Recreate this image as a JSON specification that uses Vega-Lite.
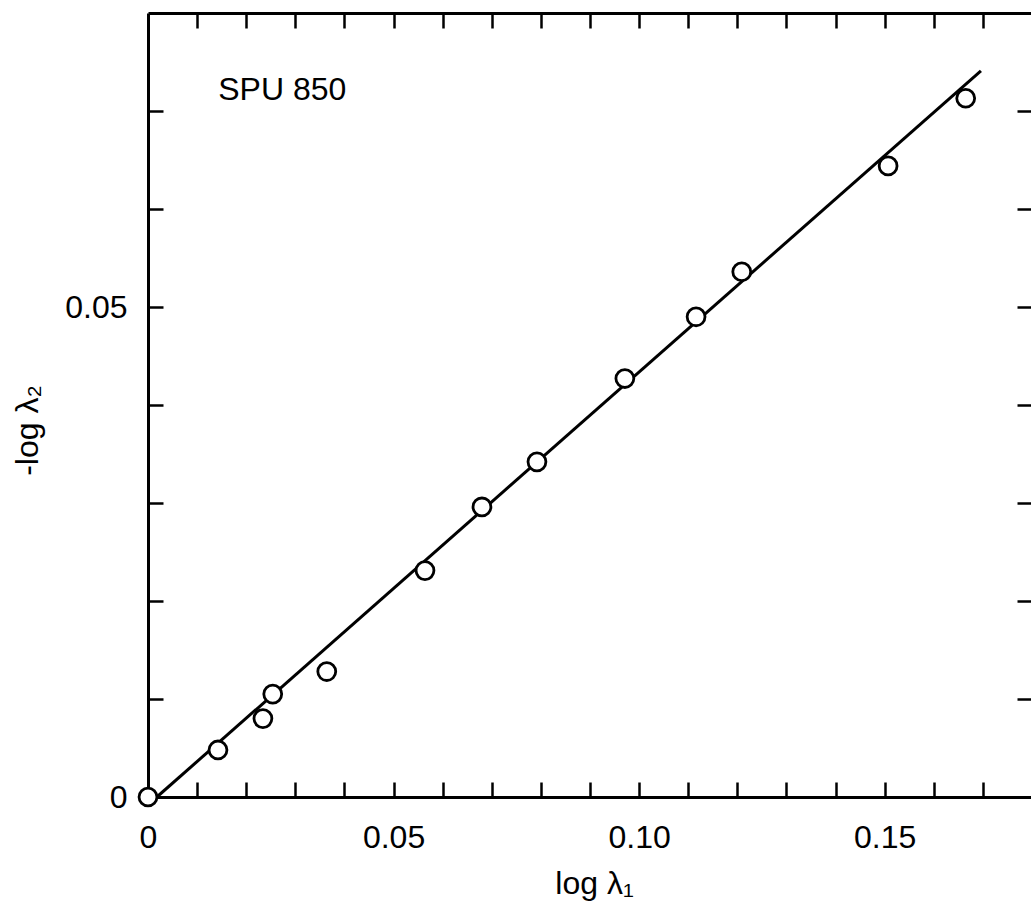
{
  "$schema": "https://vega.github.io/schema/vega-lite/v6.json",
  "width": 884,
  "height": 784,
  "autosize": {"type": "none"},
  "padding": {"left": 148, "top": 13, "right": 0, "bottom": 112},
  "background": "white",
  "config": {
    "view": {"stroke": null},
    "font": "Liberation Sans",
    "axis": {
      "grid": false,
      "domainColor": "black",
      "domainWidth": 3,
      "tickColor": "black",
      "tickWidth": 2.5,
      "tickSize": -15,
      "labelColor": "black",
      "labelFontSize": 32,
      "labelFont": "Liberation Sans",
      "labelFlush": false,
      "labelOverlap": false,
      "titleColor": "black",
      "titleFontSize": 32,
      "titleFont": "Liberation Sans",
      "titleFontWeight": "normal"
    }
  },
  "datasets": {
    "pts": [
      {"x": 0.0, "y": 0.0},
      {"x": 0.01425, "y": 0.0048},
      {"x": 0.0234, "y": 0.0080},
      {"x": 0.0254, "y": 0.0105},
      {"x": 0.0364, "y": 0.0128},
      {"x": 0.0564, "y": 0.0231},
      {"x": 0.0680, "y": 0.0296},
      {"x": 0.0792, "y": 0.0342},
      {"x": 0.0971, "y": 0.0427},
      {"x": 0.1116, "y": 0.0490},
      {"x": 0.1209, "y": 0.0536},
      {"x": 0.1507, "y": 0.0644},
      {"x": 0.1665, "y": 0.0713}
    ],
    "fit": [
      {"x": 0.0018, "y": 0.0},
      {"x": 0.1696, "y": 0.0741}
    ],
    "lbl": [
      {"x": 0.0143, "y": 0.0711, "label": "SPU 850"}
    ]
  },
  "resolve": {"axis": {"x": "independent", "y": "independent"}},
  "layer": [
    {
      "data": {"name": "fit"},
      "mark": {"type": "line", "color": "black", "strokeWidth": 3},
      "encoding": {
        "x": {
          "field": "x", "type": "quantitative",
          "scale": {"domain": [0, 0.18], "nice": false, "zero": false},
          "axis": {
            "orient": "top",
            "values": [0.01, 0.02, 0.03, 0.04, 0.05, 0.06, 0.07, 0.08, 0.09, 0.1, 0.11, 0.12, 0.13, 0.14, 0.15, 0.16, 0.17],
            "labels": false,
            "title": null
          }
        },
        "y": {
          "field": "y", "type": "quantitative",
          "scale": {"domain": [0, 0.08], "nice": false, "zero": false},
          "axis": {
            "orient": "right",
            "values": [0.01, 0.02, 0.03, 0.04, 0.05, 0.06, 0.07],
            "labels": false,
            "title": null
          }
        }
      }
    },
    {
      "data": {"name": "pts"},
      "mark": {"type": "point", "shape": "circle", "filled": true, "fill": "white", "stroke": "black", "strokeWidth": 2.8, "size": 320, "opacity": 1},
      "encoding": {
        "x": {
          "field": "x", "type": "quantitative",
          "axis": {
            "orient": "bottom",
            "values": [0, 0.01, 0.02, 0.03, 0.04, 0.05, 0.06, 0.07, 0.08, 0.09, 0.1, 0.11, 0.12, 0.13, 0.14, 0.15, 0.16, 0.17],
            "labelExpr": "datum.value < 0.001 ? '0' : (round(datum.value * 100) % 5 == 0 ? format(datum.value, '.2f') : '')",
            "labelPadding": 40,
            "title": "log λ₁",
            "titleX": 446,
            "titleY": 86,
            "titleBaseline": "middle",
            "titleAlign": "center"
          }
        },
        "y": {
          "field": "y", "type": "quantitative",
          "axis": {
            "orient": "left",
            "values": [0, 0.01, 0.02, 0.03, 0.04, 0.05, 0.06, 0.07],
            "labelExpr": "datum.value < 0.001 ? '0' : (abs(datum.value - 0.05) < 0.0001 ? '0.05' : '')",
            "labelPadding": 36,
            "title": "-log λ₂",
            "titleX": -121,
            "titleY": 417,
            "titleAngle": 270,
            "titleBaseline": "middle",
            "titleAlign": "center"
          }
        }
      }
    },
    {
      "data": {"name": "lbl"},
      "mark": {"type": "text", "align": "left", "baseline": "alphabetic", "fontSize": 32, "font": "Liberation Sans", "color": "black"},
      "encoding": {
        "x": {"field": "x", "type": "quantitative", "axis": null},
        "y": {"field": "y", "type": "quantitative", "axis": null},
        "text": {"field": "label"}
      }
    }
  ]
}
